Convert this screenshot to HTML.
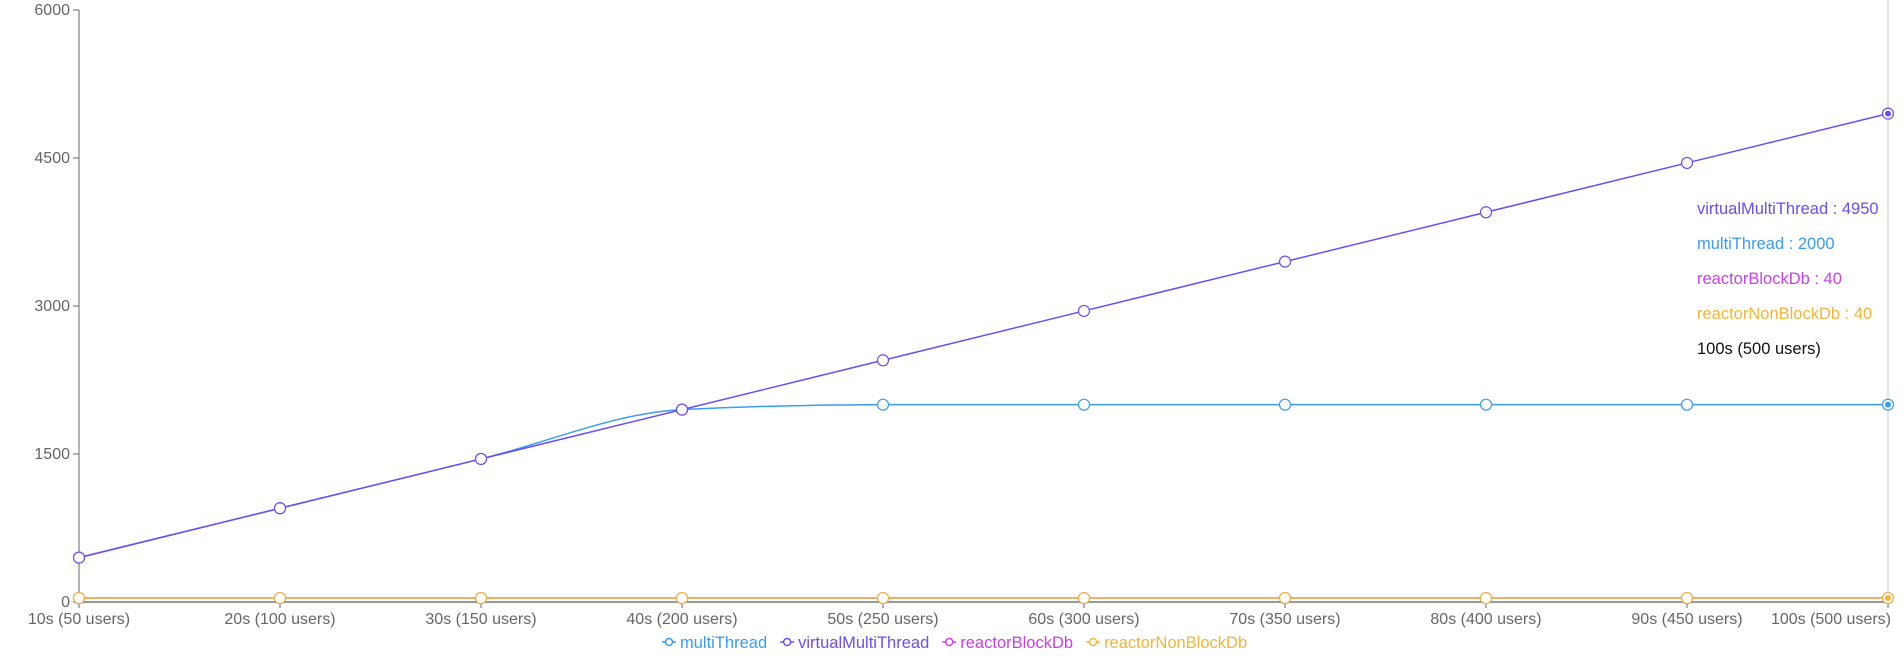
<!DOCTYPE html>
<html><head><meta charset="utf-8"><style>
html,body{margin:0;padding:0;background:#fff;}
svg{display:block;font-family:"Liberation Sans",sans-serif;}
</style></head><body>
<svg id="chart" width="1904" height="662"></svg>
<script>
const categories=["10s (50 users)","20s (100 users)","30s (150 users)","40s (200 users)","50s (250 users)","60s (300 users)","70s (350 users)","80s (400 users)","90s (450 users)","100s (500 users)"];
const multiThread=[450,950,1450,1950,2000,2000,2000,2000,2000,2000];
const virtualMultiThread=[450,950,1450,1950,2450,2950,3450,3950,4450,4950];
const reactorBlockDb=[40,40,40,40,40,40,40,40,40,40];
const reactorNonBlockDb=[40,40,40,40,40,40,40,40,40,40];
const yTicks=[0,1500,3000,4500,6000];
const seriesNames=["multiThread","virtualMultiThread","reactorBlockDb","reactorNonBlockDb"];
const colors=["#3a9bf7","#6c4cf6","#c93ef0","#f2b638"];
const allSeries=[multiThread,virtualMultiThread,reactorBlockDb,reactorNonBlockDb];
const X0=79,X1=1888,Y0=602,Y1=10,YMAX=6000;
const NS="http://www.w3.org/2000/svg";
const svg=document.getElementById('chart');
function xs(i){return X0+(X1-X0)*i/(categories.length-1);}
function ys(v){return Y0-(Y0-Y1)*v/YMAX;}
function mk(t,a,p){const e=document.createElementNS(NS,t);for(const k in a)e.setAttribute(k,a[k]);(p||svg).appendChild(e);return e;}
let e=mk('line',{x1:X0,y1:Y1,x2:X0,y2:Y0,stroke:'#666'});


e=mk('line',{x1:X0,y1:Y0,x2:X1,y2:Y0,stroke:'#999','stroke-width':2});


yTicks.forEach(v=>{
  mk('line',{x1:X0-6,y1:ys(v),x2:X0,y2:ys(v),stroke:'#666'});
  const t=mk('text',{x:X0-9,y:ys(v)+5,'text-anchor':'end','font-size':16,fill:'#666'});
  t.textContent=v;
  
  
});
categories.forEach((c,i)=>{
  mk('line',{x1:xs(i),y1:Y0,x2:xs(i),y2:Y0+6,stroke:'#666'});
  const last=i===categories.length-1;
  const t=mk('text',{x:last?X1+3:xs(i),y:Y0+22,'text-anchor':last?'end':'middle','font-size':16,fill:'#666'});
  t.textContent=c;
  
  
});
e=mk('line',{x1:X1,y1:Y1-10,x2:X1,y2:Y0,stroke:'#ccc'});


function sgn(v){return v<0?-1:1;}
function monotonePath(pts){
  const n=pts.length;const m=new Array(n).fill(0);
  for(let i=1;i<n-1;i++){
    const h0=pts[i][0]-pts[i-1][0],h1=pts[i+1][0]-pts[i][0];
    const s0=(pts[i][1]-pts[i-1][1])/h0,s1=(pts[i+1][1]-pts[i][1])/h1;
    const p=(s0*h1+s1*h0)/(h0+h1);
    m[i]=(sgn(s0)+sgn(s1))*Math.min(Math.abs(s0),Math.abs(s1),0.5*Math.abs(p))||0;
  }
  const hA=pts[1][0]-pts[0][0];
  m[0]=(3*(pts[1][1]-pts[0][1])/hA-m[1])/2;
  const hB=pts[n-1][0]-pts[n-2][0];
  m[n-1]=(3*(pts[n-1][1]-pts[n-2][1])/hB-m[n-2])/2;
  let s='M'+pts[0][0]+','+pts[0][1];
  for(let i=0;i<n-1;i++){
    const h=(pts[i+1][0]-pts[i][0])/3;
    s+=' C'+(pts[i][0]+h)+','+(pts[i][1]+m[i]*h)+' '+(pts[i+1][0]-h)+','+(pts[i+1][1]-m[i+1]*h)+' '+pts[i+1][0]+','+pts[i+1][1];
  }
  return s;
}
[0,1,2,3].forEach(si=>{
  const data=allSeries[si];
  const pts=data.map((v,i)=>[xs(i),ys(v)]);
  const p=mk('path',{d:monotonePath(pts),fill:'none',stroke:colors[si],'stroke-width':1.5});
  
  
  pts.forEach((pt,i)=>{
    const last=i===pts.length-1;
    const c=mk('circle',{cx:pt[0],cy:pt[1],r:5.5,fill:'#fff',stroke:colors[si],'stroke-width':1.2});
    
    
    if(last){mk('circle',{cx:pt[0],cy:pt[1],r:3,fill:colors[si]});}
  });
});
const tip=[[1,"virtualMultiThread : "+virtualMultiThread[9]],[0,"multiThread : "+multiThread[9]],[2,"reactorBlockDb : "+reactorBlockDb[9]],[3,"reactorNonBlockDb : "+reactorNonBlockDb[9]]];
tip.forEach((t,k)=>{
  const tx=mk('text',{x:1697,y:214+k*35,'font-size':16.5,fill:colors[t[0]]});
  tx.textContent=t[1];
  
  
});
e=mk('text',{x:1697,y:354,'font-size':16.5,fill:'#111'});
e.textContent=categories[9];


let lx=662;
seriesNames.forEach((n,si)=>{
  const g=mk('g',{});
  
  
  mk('line',{x1:lx,y1:642,x2:lx+14,y2:642,stroke:colors[si],'stroke-width':1.5},g);
  mk('circle',{cx:lx+7,cy:642,r:3.5,fill:'#fff',stroke:colors[si],'stroke-width':1.5},g);
  const t=mk('text',{x:lx+18,y:648,'font-size':16.5,fill:colors[si]},g);
  t.textContent=n;
  lx+=18+t.getComputedTextLength()+13;
});
</script>
</body></html>
